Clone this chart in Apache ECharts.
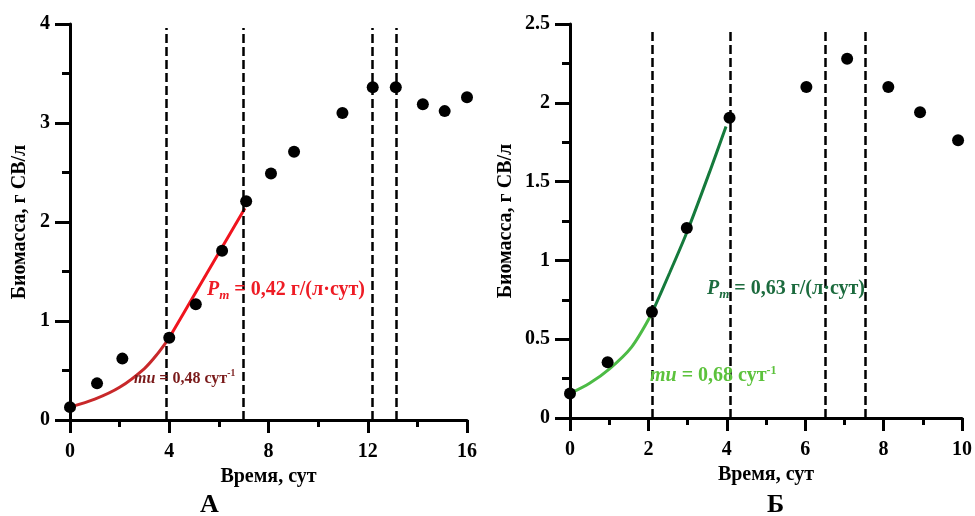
<!DOCTYPE html>
<html>
<head>
<meta charset="utf-8">
<script src="https://cdn.jsdelivr.net/npm/echarts@6/dist/echarts.min.js"></script>
<style>
html, body { margin: 0; padding: 0; background: #fff; }
#main { width: 975px; height: 516px; }
</style>
</head>
<body>
<div id="main"></div>
<script>
// A: measured points (day, biomass)
var pointsA = [[0,0.13],[1.09,0.37],[2.11,0.62],[4.0,0.83],[5.07,1.17],[6.13,1.71],[7.1,2.21],
	[8.1,2.49],[9.03,2.71],[10.98,3.10],[12.2,3.36],[13.13,3.36],[14.22,3.19],[15.1,3.12],[16.0,3.26]];
// A: fitted curve, exponential part and linear part
var fitExpA = [[0,0.13],[1,0.21],[2,0.33],[3,0.52],[3.5,0.66],[4,0.83]];
var fitLinA = [[4,0.83],[5,1.26],[6,1.69],[7.05,2.14]];
var phaseA = [3.89, 7.0, 12.18, 13.15];

// Б
var pointsB = [[0,0.155],[0.96,0.354],[2.09,0.673],[2.98,1.206],[4.07,1.905],
	[6.03,2.10],[7.07,2.28],[8.12,2.10],[8.93,1.94],[9.9,1.763]];
var fitExpB = [[0,0.155],[0.5,0.22],[1,0.31],[1.57,0.45],[2.08,0.66]];
var fitLinB = [[2.08,0.66],[2.54,0.92],[3,1.19],[3.56,1.56],[3.98,1.85]];
var phaseB = [2.09, 4.09, 6.52, 7.53];

var serif = '"Liberation Serif", "Times New Roman", serif';

var chart = echarts.init(document.getElementById('main'));

function xAx(idx, max, interval) {
	return {
		type: 'value', gridIndex: idx, min: 0, max: max, interval: interval,
		axisLine: { show: true, onZero: false, lineStyle: { color: '#000', width: 3 } },
		axisTick: { show: true, length: 13, lineStyle: { color: '#000', width: 3 } },
		minorTick: { show: true, splitNumber: 2, length: 7, lineStyle: { color: '#000', width: 3 } },
		splitLine: { show: false },
		axisLabel: { color: '#000', fontFamily: serif, fontWeight: 'bold', fontSize: 20, margin: 22 },
		name: 'Время, сут', nameLocation: 'middle', nameGap: 42,
		nameTextStyle: { color: '#000', fontFamily: serif, fontWeight: 'bold', fontSize: 20 }
	};
}
function yAx(idx, max, interval, gap) {
	return {
		type: 'value', gridIndex: idx, min: 0, max: max, interval: interval,
		axisLine: { show: true, lineStyle: { color: '#000', width: 3 } },
		axisTick: { show: true, length: 15, lineStyle: { color: '#000', width: 3 } },
		minorTick: { show: true, splitNumber: 2, length: 8, lineStyle: { color: '#000', width: 3 } },
		splitLine: { show: false },
		axisLabel: { color: '#000', fontFamily: serif, fontWeight: 'bold', fontSize: 20, margin: 20 },
		name: 'Биомасса, г СВ/л', nameLocation: 'middle', nameGap: gap,
		nameTextStyle: { color: '#000', fontFamily: serif, fontWeight: 'bold', fontSize: 20 }
	};
}
function phaseLines(xs, top) {
	return {
		symbol: 'none', silent: true, label: { show: false },
		lineStyle: { color: '#000', type: [9, 4], width: 2.5 },
		data: xs.map(function (x) { return [{ coord: [x, 0] }, { coord: [x, top] }]; })
	};
}
function fit(idx, data, color) {
	return {
		type: 'line', xAxisIndex: idx, yAxisIndex: idx, data: data, smooth: 0.3,
		showSymbol: false, lineStyle: { color: color, width: 3 }, z: 3
	};
}
function dots(idx, data, lines, top) {
	return {
		type: 'scatter', xAxisIndex: idx, yAxisIndex: idx, data: data, symbolSize: 12,
		itemStyle: { color: '#000', opacity: 1 }, z: 4, markLine: phaseLines(lines, top)
	};
}
function note(left, top, parts, size, color) {
	return {
		type: 'text', left: left, top: top, z: 10,
		style: {
			text: parts, fill: color,
			font: 'bold ' + size + 'px ' + serif,
			rich: {
				it: { fontFamily: serif, fontWeight: 'bold', fontStyle: 'italic', fontSize: size, fill: color },
				sub: { fontFamily: serif, fontWeight: 'bold', fontStyle: 'italic', fontSize: size * 0.65, fill: color, padding: [12, 0, 0, 0] },
				n: { fontFamily: serif, fontWeight: 'bold', fontSize: size, fill: color },
				sup: { fontFamily: serif, fontWeight: 'bold', fontSize: size * 0.6, fill: color, padding: [0, 0, 10, 0] }
			}
		}
	};
}

var option = {
	backgroundColor: '#fff',
	animation: false,
	grid: [
		{ left: 70, right: 508, top: 24, bottom: 96 },
		{ left: 570, right: 12, top: 24, bottom: 98 }
	],
	xAxis: [xAx(0, 16, 4), xAx(1, 10, 2)],
	yAxis: [yAx(0, 4, 1, 40), yAx(1, 2.5, 0.5, 54)],
	series: [
		fit(0, fitExpA, '#c8282a'),
		fit(0, fitLinA, '#f0141e'),
		dots(0, pointsA, phaseA, 3.96),
		fit(1, fitExpB, '#4cbb45'),
		fit(1, fitLinB, '#157a3c'),
		dots(1, pointsB, phaseB, 2.47)
	],
	graphic: [
		note(207, 280, '{it|P}{sub|m}{n| = 0,42 г/(л·сут)}', 20, '#ee1c25'),
		note(134, 369, '{it|mu}{n| = 0,48 сут}{sup|-1}', 16, '#7a1a1a'),
		note(707, 279, '{it|P}{sub|m}{n| = 0,63 г/(л·сут)}', 20, '#1c6b3e'),
		note(650, 365, '{it|mu}{n| = 0,68 сут}{sup|-1}', 20, '#5cc23c'),
		{ type: 'text', left: 200, top: 492, style: { text: 'А', fill: '#000', font: 'bold 26px ' + serif } },
		{ type: 'text', left: 767, top: 492, style: { text: 'Б', fill: '#000', font: 'bold 26px ' + serif } }
	]
};

chart.setOption(option);
</script>
</body>
</html>
